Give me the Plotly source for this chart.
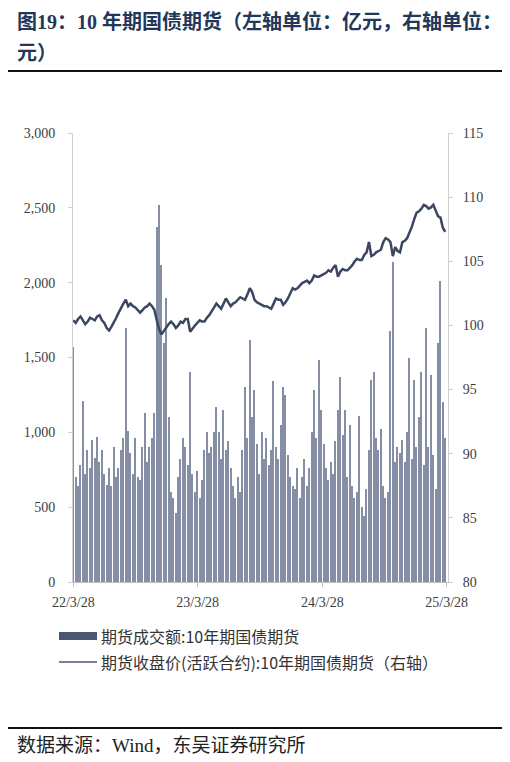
import pandas as pd
import plotly.graph_objects as go

# weekly sample points, starting 2022-03-28
week_dates = pd.date_range("2022-03-28", periods=157, freq="7D")

# 期货成交额 (亿元), read off the chart roughly week by week
turnover = [
    1570, 700, 640, 780, 1210, 720, 880, 760, 950, 830,
    970, 800, 880, 720, 650, 760, 640, 900, 700, 760,
    880, 960, 1700, 1010, 860, 720, 960, 700, 680, 900,
    1130, 800, 900, 960, 1130, 2370, 2520, 2120, 1600, 1900,
    1100, 600, 560, 460, 700, 820, 960, 900, 780, 1400,
    720, 600, 740, 560, 680, 880, 1000, 860, 900, 1000,
    1170, 1000, 820, 1150, 880, 940, 760, 640, 560, 700,
    600, 880, 1300, 960, 1620, 1100, 1280, 920, 720, 1000,
    820, 960, 780, 880, 1340, 900, 820, 1050, 1300, 1250,
    850, 700, 640, 620, 760, 560, 700, 820, 640, 760,
    1000, 1280, 960, 1480, 1150, 920, 760, 680, 800, 720,
    940, 1150, 1370, 980, 1150, 700, 1050, 640, 560, 600,
    1110, 500, 440, 620, 880, 1350, 1400, 960, 880, 1020,
    640, 560, 600, 1680, 2140, 800, 900, 860, 950, 800,
    1000, 1500, 820, 1350, 900, 1100, 1400, 780, 1700, 900,
    1380, 850, 620, 1600, 2010, 1200, 960,
]

# 期货收盘价 (元), right axis
close_price = [
    100.4, 100.2, 100.5, 100.7, 100.4, 100.1, 100.3, 100.6, 100.5, 100.4,
    100.7, 100.8, 100.4, 100.2, 99.8, 99.6, 99.9, 100.2, 100.6, 101.0,
    101.4, 101.7, 102.0, 101.5, 101.7, 101.5, 101.4, 101.2, 101.0, 101.2,
    101.4, 101.5, 101.7, 101.5, 101.2, 100.4, 99.7, 99.3, 99.6, 99.9,
    100.1, 100.3, 100.1, 99.8, 100.0, 100.3, 100.2, 100.5, 100.5, 99.5,
    99.8, 100.0, 100.2, 100.4, 100.3, 100.3, 100.6, 100.8, 101.1, 101.4,
    101.7, 101.5, 101.3, 101.7, 102.1, 101.8, 101.5, 101.7, 101.8, 102.0,
    102.2, 102.1, 102.0, 102.4, 102.9, 102.6, 102.0, 101.8, 101.7, 101.6,
    101.5, 101.5, 101.4, 101.3, 101.7, 102.1, 102.0, 102.0, 101.6, 101.8,
    102.1, 102.5, 102.9, 102.8, 102.9, 103.1, 103.3, 103.4, 103.5, 103.3,
    103.5, 103.9, 103.8, 103.8, 103.9, 104.0, 104.1, 104.3, 104.2, 104.5,
    104.7, 103.8, 104.2, 104.4, 104.3, 104.3, 104.5, 104.7, 105.0, 105.2,
    105.1, 105.1, 105.5, 105.7, 106.5, 105.4, 105.5, 105.7, 105.8, 105.9,
    106.5, 106.8, 106.7, 106.5, 105.4, 106.1, 105.8, 105.7, 106.5, 106.6,
    106.8, 107.2, 107.7, 108.3, 108.8, 108.9, 109.1, 109.4, 109.3, 109.1,
    109.2, 109.4, 108.9, 108.5, 108.4, 107.6, 107.3,
]

tick_dates = ["2022-03-28", "2023-03-28", "2024-03-28", "2025-03-28"]
tick_labels = ["22/3/28", "23/3/28", "24/3/28", "25/3/28"]

bar_name = "期货成交额:10年期国债期货"
line_name = "期货收盘价(活跃合约):10年期国债期货（右轴）"

# the page body adds 8px around the figure, so work in window pixels minus 8
OFF = 8
W, H = 510 - OFF, 762 - OFF
L, T = 73 - OFF, 133 - OFF
R, B = W - (448 - OFF), H - (582 - OFF)
PH = H - T - B


def py(y):
    # window pixel row -> paper y
    return (H - B - (y - OFF)) / PH


def px(x):
    return (x - OFF - L) / (W - L - R)


fig = go.Figure()
fig.add_trace(go.Bar(
    x=week_dates, y=turnover, name=bar_name,
    marker=dict(color="#858ea5", line=dict(width=0)),
    width=4 * 24 * 3600 * 1000,
))
fig.add_trace(go.Scatter(
    x=week_dates, y=close_price, yaxis="y2", mode="lines", name=line_name,
    line=dict(color="#3b4761", width=2.5),
))

tick_font = dict(family="Liberation Serif", size=14, color="#404040")
fig.update_layout(
    width=W, height=H,
    margin=dict(l=L, r=R, t=T, b=B),
    paper_bgcolor="white", plot_bgcolor="white",
    showlegend=False,
    bargap=0,
    xaxis=dict(
        type="date", range=["2022-03-27", "2025-04-01"],
        tickvals=tick_dates, ticktext=tick_labels,
        showline=True, linecolor="#bfbfbf", linewidth=1,
        ticks="outside", ticklen=4, tickcolor="#bfbfbf",
        ticklabelstandoff=3,
        showgrid=False, tickfont=tick_font,
    ),
    yaxis=dict(
        range=[0, 3000], dtick=500, tickformat=",",
        showline=True, linecolor="#d0d0d0", linewidth=1,
        ticks="outside", ticklen=4, tickcolor="#d0d0d0",
        ticklabelstandoff=10,
        showgrid=False, zeroline=False, tickfont=tick_font,
    ),
    yaxis2=dict(
        range=[80, 115], dtick=5, overlaying="y", side="right",
        showline=True, linecolor="#d0d0d0", linewidth=1,
        ticks="outside", ticklen=4, tickcolor="#d0d0d0",
        ticklabelstandoff=7,
        showgrid=False, zeroline=False, tickfont=tick_font,
    ),
)

# legend drawn by hand so it does not push the margins
leg_font = dict(family="Noto Sans CJK SC", size=16, color="#333333")
fig.add_shape(type="rect", xref="paper", yref="paper",
              x0=px(59), x1=px(97), y0=py(640), y1=py(632),
              fillcolor="#4b5671", line=dict(width=0))
fig.add_shape(type="line", xref="paper", yref="paper",
              x0=px(59), x1=px(97), y0=py(662), y1=py(662),
              line=dict(color="#4b5671", width=1.5))
for yy, label in ((636, bar_name), (662, line_name)):
    fig.add_annotation(text=label, xref="paper", yref="paper",
                       x=px(99), y=py(yy), xanchor="left", yanchor="middle",
                       showarrow=False, font=leg_font)

title_font = dict(family="Liberation Serif, Noto Sans CJK SC", size=20, color="#23375a")
fig.add_annotation(
    text="<b>图19：10 年期国债期货（左轴单位：亿元，右轴单位：</b>",
    xref="paper", yref="paper", x=px(15), y=py(21),
    xanchor="left", yanchor="middle", showarrow=False, font=title_font,
)
fig.add_annotation(
    text="<b>元）</b>",
    xref="paper", yref="paper", x=px(15), y=py(53),
    xanchor="left", yanchor="middle", showarrow=False, font=title_font,
)
fig.add_annotation(
    text="数据来源：Wind，东吴证券研究所",
    xref="paper", yref="paper", x=px(15), y=py(745),
    xanchor="left", yanchor="middle", showarrow=False,
    font=dict(family="Liberation Serif, Noto Sans CJK SC", size=19, color="#222222"),
)
for yy in (71, 728):
    fig.add_shape(
        type="line", xref="paper", yref="paper",
        x0=px(5), x1=px(505), y0=py(yy), y1=py(yy),
        line=dict(color="#111111", width=2),
    )

fig.write_html("out.html")
